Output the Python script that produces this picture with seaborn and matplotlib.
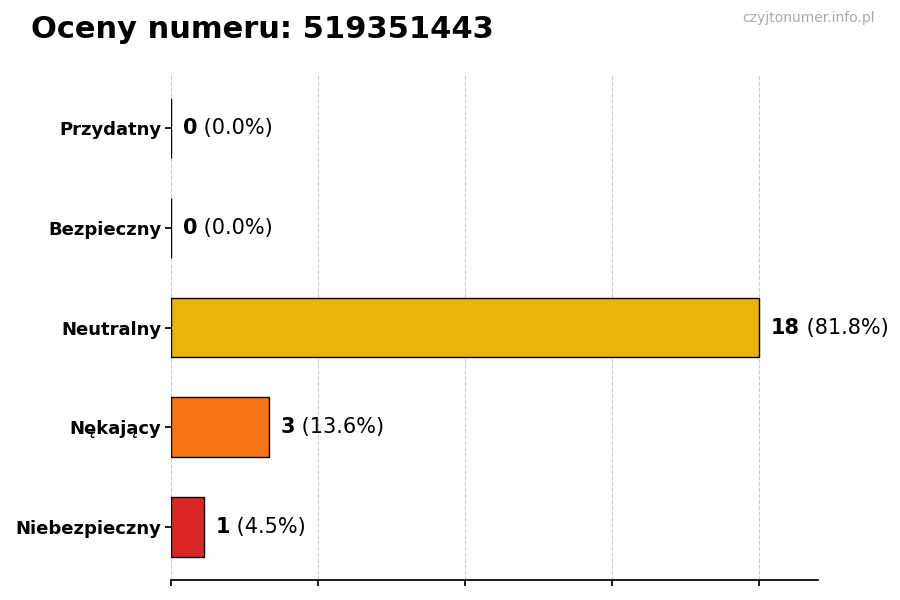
import matplotlib
matplotlib.use("Agg")
import matplotlib.pyplot as plt
import seaborn as sns
import pandas as pd

categories = ["Przydatny", "Bezpieczny", "Neutralny", "Nękający", "Niebezpieczny"]
counts = [0, 0, 18, 3, 1]
percents = [0.0, 0.0, 81.8, 13.6, 4.5]
colors = ["#16a34a", "#2563eb", "#eab308", "#f97316", "#dc2626"]
title = "Oceny numeru: 519351443"
watermark = "czyjtonumer.info.pl"

sns.set_theme(style="white")
plt.rcParams['font.family'] = ['DejaVu Sans']

df = pd.DataFrame({"cat": categories, "count": counts})

fig = plt.figure(figsize=(9, 6), dpi=100)
ax = fig.add_axes([0.19, 0.0333, 0.719, 0.8417])

sns.barplot(data=df, y="cat", x="count", hue="cat", palette=dict(zip(categories, colors)),
            order=categories, orient="h", width=0.6, edgecolor="black", linewidth=1,
            legend=False, ax=ax, saturation=1)

maxv = max(counts)
ax.set_xlim(0, maxv * 1.1)
ax.set_ylim(len(categories) - 0.47, -0.53)
ax.set_xticks([maxv * i / 4 for i in range(5)])
ax.set_xticklabels([])
ax.set_xlabel("")
ax.set_ylabel("")
ax.grid(axis="x", linestyle="--", color="#cccccc", linewidth=0.8)
ax.set_axisbelow(True)
for s in ["top", "right", "left"]:
    ax.spines[s].set_visible(False)
ax.spines["bottom"].set_color("black")
ax.tick_params(axis="y", left=True, length=4, color="black", labelsize=13, pad=3)
ax.tick_params(axis="x", bottom=True, length=4, color="black")
for lab in ax.get_yticklabels():
    lab.set_fontweight("bold")
    lab.set_color("black")

for i, (c, p) in enumerate(zip(counts, percents)):
    t = ax.text(c + maxv * 0.02, i, f"{c}", fontsize=15, fontweight="bold", va="center", ha="left", color="black")
    ax.annotate(f" ({p:.1f}%)", xy=(1, 0.5), xycoords=t, va="center", ha="left", fontsize=15, color="black")

fig.text(0.034, 0.95, title, fontsize=22, fontweight="bold", ha="left", va="center", color="black")
fig.text(0.972, 0.97, watermark, fontsize=10, ha="right", va="center", color="#aaaaaa")

fig.savefig("out.png", dpi=100)
